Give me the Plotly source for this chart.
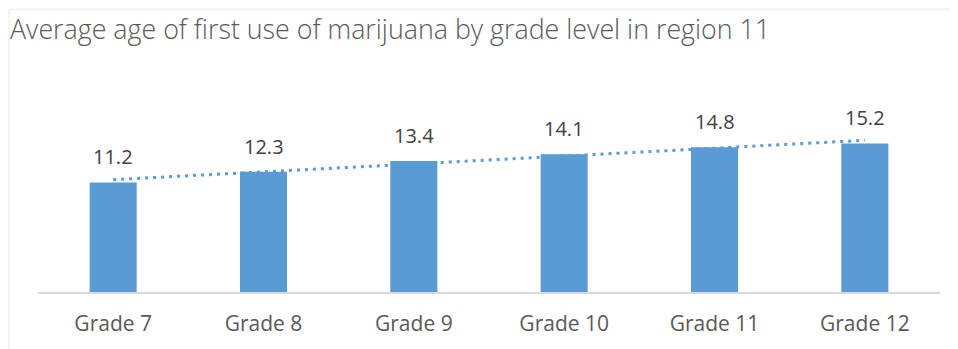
import numpy as np
import plotly.graph_objects as go

categories = ["Grade 7", "Grade 8", "Grade 9", "Grade 10", "Grade 11", "Grade 12"]
ages = [11.2, 12.3, 13.4, 14.1, 14.8, 15.2]
title_text = "Average age of first use of marijuana by grade level in region 11"

BAR = "#5B9BD5"
FONT = "Open Sans"

# linear trendline fitted to the data (Excel-style)
idx = np.arange(1, len(ages) + 1)
slope, intercept = np.polyfit(idx, ages, 1)
trend = slope * idx + intercept

fig = go.Figure()
fig.add_trace(go.Bar(x=categories, y=ages, marker=dict(color=BAR, line=dict(width=0)),
                     hoverinfo="skip", showlegend=False))
fig.add_trace(go.Scatter(x=categories, y=trend, mode="lines",
                         line=dict(color=BAR, width=3, dash="3px,5px"),
                         hoverinfo="skip", showlegend=False))

for c, v in zip(categories, ages):
    fig.add_annotation(x=c, y=v, text=f"{v:.1f}", showarrow=False,
                       yanchor="bottom", yshift=10,
                       font=dict(family=FONT, size=20, color="#404040"))

# page is rendered with an 8px offset; figure coords = screen - 8
OFF = 8
W, H = 958, 349
ml = 38 - OFF
mr = W - (940 - OFF)
mb = H - (292 - OFF)
ymax = 18
scale = 9.8
plot_h = ymax * scale
mt = H - mb - plot_h
plot_w = W - ml - mr

def px_to_paper_x(px):
    return (px - OFF - ml) / plot_w

def px_to_paper_y(py):
    return (H - mb - (py - OFF)) / plot_h

bx = px_to_paper_x(9)
by = px_to_paper_y(8.5)
fig.add_shape(type="line", xref="paper", yref="paper", x0=bx, x1=px_to_paper_x(W + 20),
              y0=by, y1=by, line=dict(color="#E8E8E8", width=1))
fig.add_shape(type="line", xref="paper", yref="paper", x0=bx, x1=bx,
              y0=by, y1=px_to_paper_y(H + 20), line=dict(color="#E8E8E8", width=1))

fig.update_layout(
    width=W, height=H,
    margin=dict(l=ml, r=mr, t=mt, b=mb),
    paper_bgcolor="white", plot_bgcolor="white",
    bargap=0.687,
    title=dict(text=title_text, x=(10 - OFF) / W, xref="container", xanchor="left",
               y=1 - (30 - OFF) / H, yref="container", yanchor="middle",
               font=dict(family=FONT, size=26.8, color="#595959", weight=300)),
    xaxis=dict(showgrid=False, showline=True, linecolor="#D9D9D9", linewidth=2,
               ticks="outside", ticklen=12, tickcolor="rgba(0,0,0,0)",
               tickfont=dict(family=FONT, size=21, color="#595959"),
               fixedrange=True),
    yaxis=dict(range=[0, ymax], visible=False, fixedrange=True),
    font=dict(family=FONT),
)

fig.write_html("out.html")
